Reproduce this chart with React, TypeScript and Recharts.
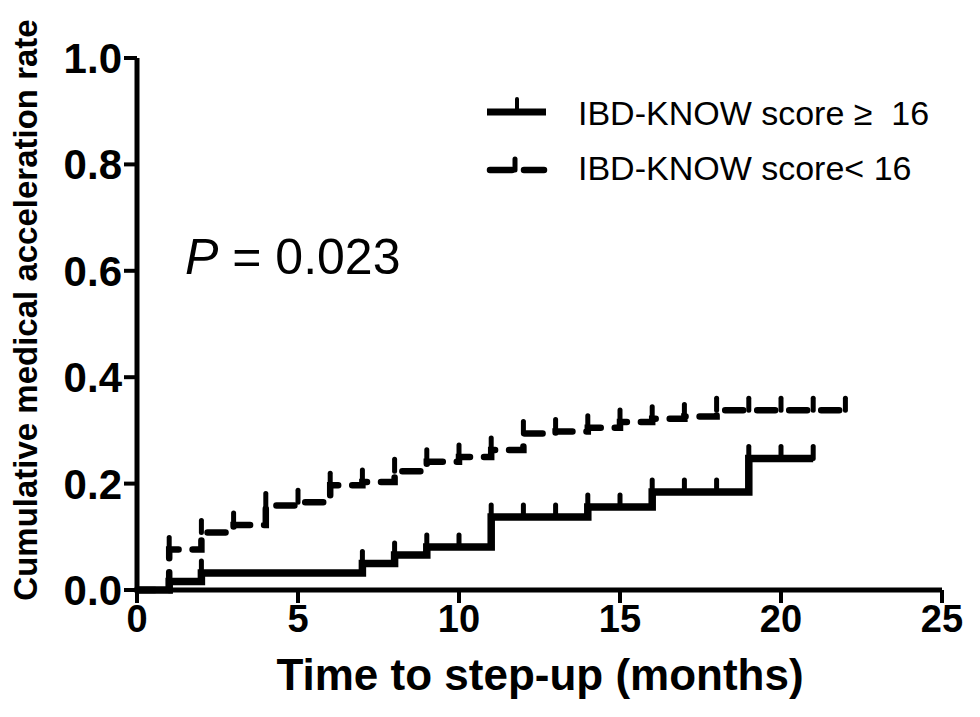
import React from 'react';
import { LineChart, Line, XAxis, YAxis, Legend, Customized } from 'recharts';

const FONT = '"Liberation Sans", Arial, Helvetica, sans-serif';

// IBD-KNOW score >= 16 (solid)
const highEventTimes = [0, 1, 2, 7, 8, 9, 11, 14, 16, 19];
const highEventRates = [0, 0.016, 0.032, 0.05, 0.066, 0.081, 0.137, 0.156, 0.184, 0.247];
const highCensorTimes = [2, 7, 8, 9, 10, 11, 12, 13, 14, 15, 16, 17, 18, 19, 20, 21];

// IBD-KNOW score < 16 (dashed)
const lowEventTimes = [0, 1, 2, 3, 4, 5, 6, 7, 8, 9, 10, 11, 12, 13, 14, 15, 16, 17, 18];
const lowEventRates = [0, 0.076, 0.108, 0.122, 0.159, 0.165, 0.197, 0.203, 0.223, 0.241, 0.25, 0.263, 0.294, 0.298, 0.305, 0.316, 0.322, 0.326, 0.338];
const lowCensorTimes = [1, 2, 3, 4, 5, 6, 7, 8, 9, 10, 11, 12, 13, 14, 15, 16, 17, 18, 19, 20, 21, 22];

const xTicks = [0, 5, 10, 15, 20, 25];
const yTicks = [0, 0.2, 0.4, 0.6, 0.8, 1.0];

const seriesNames = ['IBD-KNOW score \u2265  16', 'IBD-KNOW score< 16'];
const DASH = '18 14';

function buildSteps(evT: number[], evR: number[], cT: number[]) {
  const times = Array.from(new Set([...evT, ...cT])).sort((a, b) => a - b);
  return times.map((t) => {
    let r = 0;
    evT.forEach((et, i) => {
      if (et <= t) r = evR[i];
    });
    return { t, r, censored: cT.includes(t) };
  });
}

const highData = buildSteps(highEventTimes, highEventRates, highCensorTimes);
const lowData = buildSteps(lowEventTimes, lowEventRates, lowCensorTimes);

const makeTick = (prefix: string) => (props: any) => {
  const { cx, cy, payload, index } = props;
  if (!payload || !payload.censored || cx == null || cy == null) {
    return <g key={`${prefix}-n-${index}`} />;
  }
  return (
    <line
      key={`${prefix}-c-${index}`}
      x1={cx}
      x2={cx}
      y1={cy}
      y2={cy - 12}
      stroke="#000"
      strokeWidth={5}
      strokeLinecap="round"
    />
  );
};

const LegendContent = () => (
  <svg width={964} height={700} style={{ overflow: 'visible' }}>
    <line x1={479} x2={538} y1={104} y2={104} stroke="#000" strokeWidth={7} />
    <line x1={509} x2={509} y1={104} y2={91} stroke="#000" strokeWidth={4} strokeLinecap="round" />
    <text x={570} y={117} fontSize={34} fontFamily={FONT} fill="#000" style={{ whiteSpace: 'pre' }}>
      {seriesNames[0]}
    </text>
    <line x1={482} x2={536} y1={162} y2={162} stroke="#000" strokeWidth={6.5} strokeDasharray="22 12" strokeLinecap="round" />
    <line x1={507} x2={507} y1={162} y2={151} stroke="#000" strokeWidth={5} strokeLinecap="round" />
    <text x={570} y={172} fontSize={34} fontFamily={FONT} fill="#000" style={{ whiteSpace: 'pre' }}>
      {seriesNames[1]}
    </text>
  </svg>
);

const PValue = () => (
  <text x={177} y={266} fontSize={50} fontFamily={FONT} fill="#000">
    <tspan fontStyle="italic">P</tspan>
    <tspan style={{ whiteSpace: 'pre' }}> = 0.023</tspan>
  </text>
);

const YTitle = () => (
  <text
    x={29}
    y={302}
    transform="rotate(-90 29 302)"
    textAnchor="middle"
    fontSize={33}
    fontWeight="bold"
    fontFamily={FONT}
    fill="#000"
  >
    Cumulative medical acceleration rate
  </text>
);

const XTitle = () => (
  <text x={532} y={682} textAnchor="middle" fontSize={44} fontWeight="bold" fontFamily={FONT} fill="#000">
    Time to step-up (months)
  </text>
);

export default function App() {
  return (
    <div style={{ position: 'relative', width: 964, height: 700, background: '#fff' }}>
      <LineChart width={964} height={700} margin={{ top: 50, right: 30, bottom: 0, left: 0 }}>
        <XAxis
          dataKey="t"
          type="number"
          domain={[0, 25]}
          ticks={xTicks}
          allowDuplicatedCategory={false}
          height={118}
          axisLine={{ stroke: '#000', strokeWidth: 5 }}
          tickLine={{ stroke: '#000', strokeWidth: 4 }}
          tickSize={13}
          tick={{ fill: '#000', fontSize: 38, fontWeight: 'bold', fontFamily: FONT }}
          label={{ content: () => <XTitle /> }}
        />
        <YAxis
          type="number"
          domain={[0, 1]}
          ticks={yTicks}
          width={129}
          axisLine={{ stroke: '#000', strokeWidth: 5 }}
          tickLine={{ stroke: '#000', strokeWidth: 4 }}
          tickSize={13}
          tickFormatter={(v: number) => v.toFixed(1)}
          tick={{ fill: '#000', fontSize: 42, fontWeight: 'bold', fontFamily: FONT }}
          label={{ content: () => <YTitle /> }}
        />
        <Line
          data={lowData}
          dataKey="r"
          name={seriesNames[1]}
          type="stepAfter"
          stroke="#000"
          strokeWidth={6.5}
          strokeDasharray={DASH}
          strokeLinecap="round"
          dot={makeTick('low')}
          activeDot={false}
          isAnimationActive={false}
        />
        <Line
          data={highData}
          dataKey="r"
          name={seriesNames[0]}
          type="stepAfter"
          stroke="#000"
          strokeWidth={7.5}
          dot={makeTick('high')}
          activeDot={false}
          isAnimationActive={false}
        />
        <Legend
          verticalAlign="middle"
          align="center"
          content={() => <LegendContent />}
          wrapperStyle={{ position: 'absolute', left: 0, top: 0, width: 964, height: 700, pointerEvents: 'none' }}
        />
        <Customized component={PValue} />
      </LineChart>
    </div>
  );
}
